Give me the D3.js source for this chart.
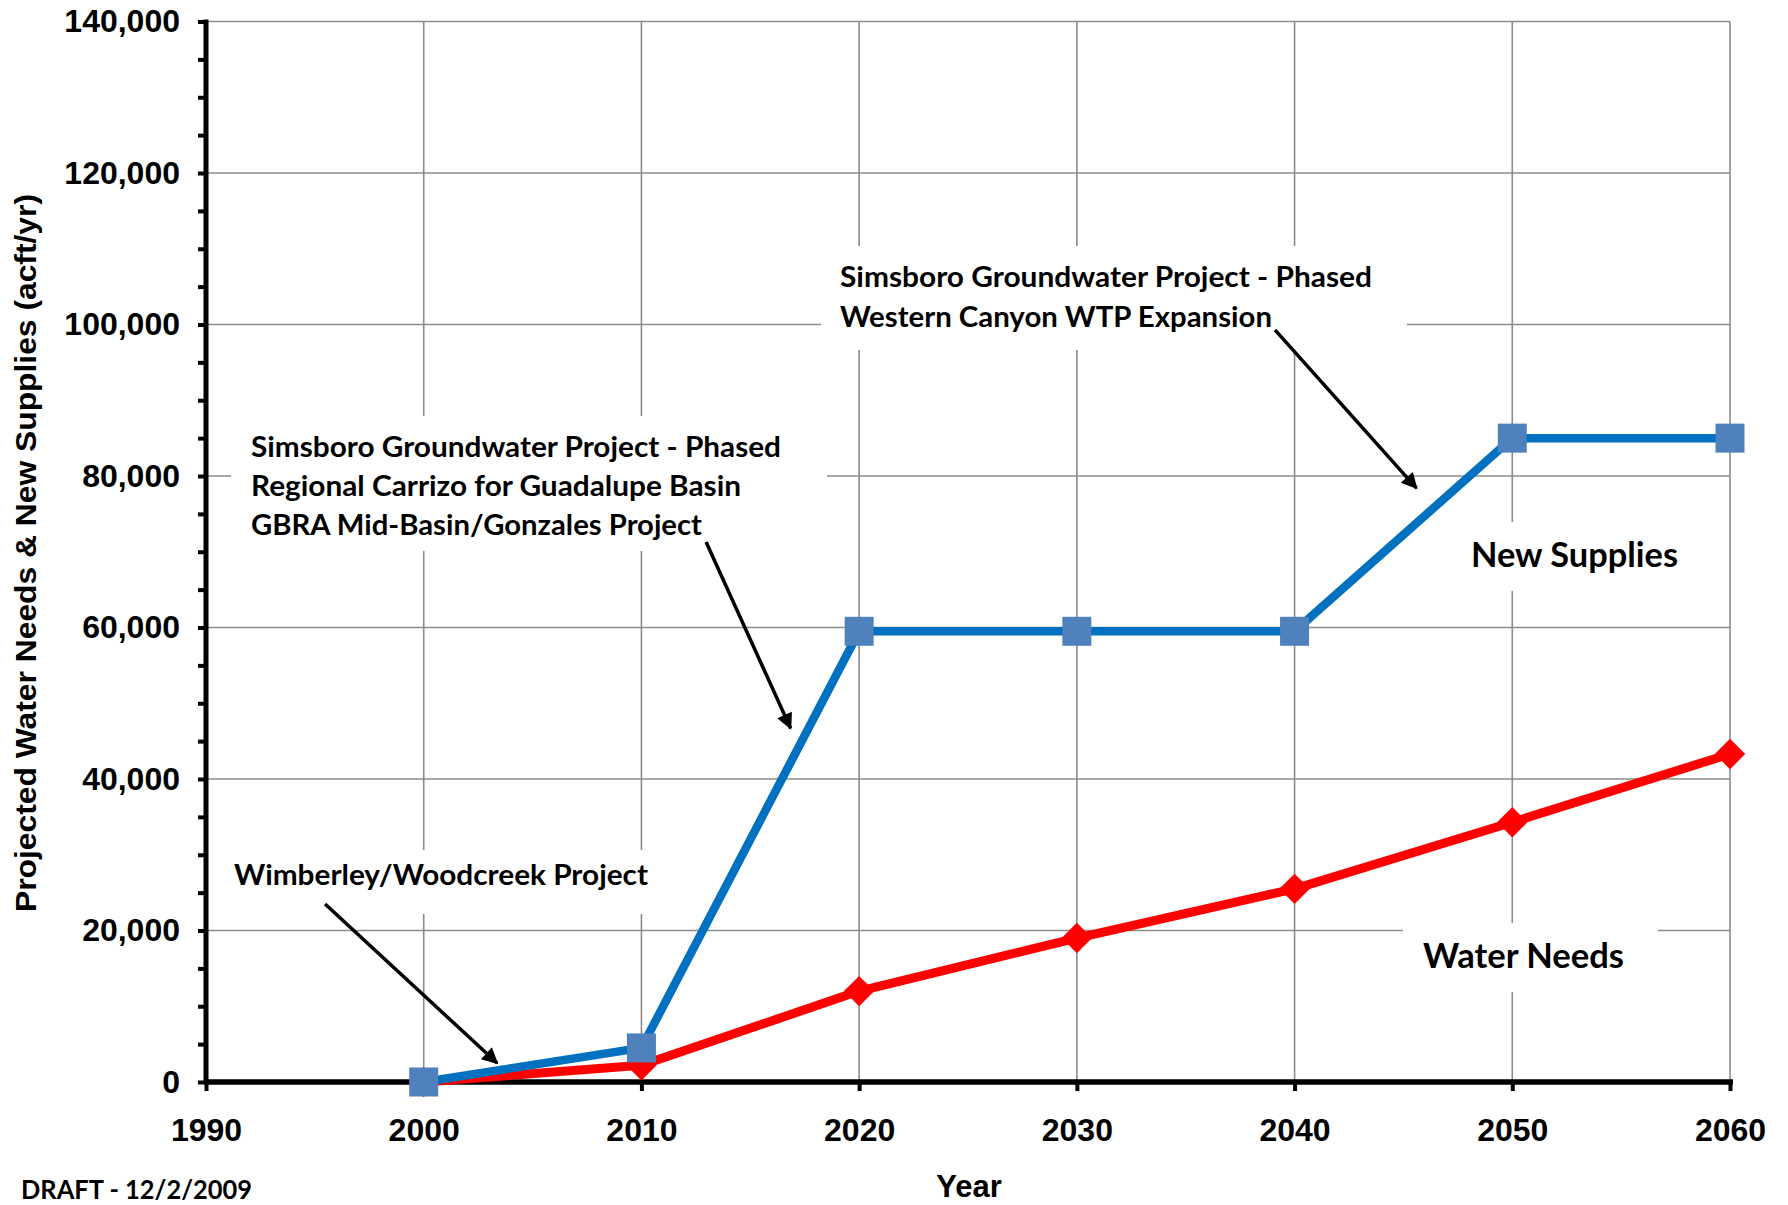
<!DOCTYPE html>
<html>
<head>
<meta charset="utf-8">
<script src="https://cdn.jsdelivr.net/npm/d3@7"></script>
<style>
  html, body { margin: 0; padding: 0; background: #fff; }
  svg { display: block; }
</style>
</head>
<body>
<svg id="chart" width="1788" height="1205"></svg>
<script>
// ---------------- DATA ----------------
const years = [2000, 2010, 2020, 2030, 2040, 2050, 2060];
const newSupplies = [0, 4500, 59500, 59500, 59500, 85000, 85000];
const waterNeeds = [0, 2200, 12000, 19000, 25500, 34300, 43300];
const xTickValues = [1990, 2000, 2010, 2020, 2030, 2040, 2050, 2060];
const yTickValues = [0, 20000, 40000, 60000, 80000, 100000, 120000, 140000];
const yMinorStep = 5000;

const seriesLabels = ["New Supplies", "Water Needs"];
const noteWestern = ["Simsboro Groundwater Project - Phased", "Western Canyon WTP Expansion"];
const noteGBRA = ["Simsboro Groundwater Project - Phased", "Regional Carrizo for Guadalupe Basin", "GBRA Mid-Basin/Gonzales Project"];
const noteWimberley = ["Wimberley/Woodcreek Project"];
const axisTitleY = "Projected Water Needs & New Supplies (acft/yr)";
const axisTitleX = "Year";
const draftNote = "DRAFT - 12/2/2009";

// ---------------- LAYOUT ----------------
(function () {
const svg = d3.select("#chart");
const pL = 206, pR = 1730, pT = 21.5, pB = 1082;
const x = d3.scaleLinear().domain([1990, 2060]).range([pL, pR]);
const y = d3.scaleLinear().domain([0, 140000]).range([pB, pT]);

const tickFont = "'Liberation Sans', Arial, sans-serif";
const noteFont = "Lato, 'Open Sans', sans-serif";

// gridlines
const grid = svg.append("g").attr("stroke", "#8c8c8c").attr("stroke-width", 1.6);
grid.selectAll("line.h").data(yTickValues.filter(v => v > 0)).join("line")
  .attr("x1", pL).attr("x2", pR)
  .attr("y1", d => y(d)).attr("y2", d => y(d));
grid.selectAll("line.v").data(xTickValues.filter(v => v > 1990)).join("line")
  .attr("x1", d => x(d)).attr("x2", d => x(d))
  .attr("y1", pT).attr("y2", pB);

// white boxes behind annotation text (break gridlines)
const boxes = [
  [821, 246, 1407, 350],
  [231, 416, 827, 551],
  [222, 850, 660, 914],
  [1455, 522, 1690, 591],
  [1403, 923, 1658, 992]
];
svg.append("g").selectAll("rect").data(boxes).join("rect")
  .attr("x", d => d[0]).attr("y", d => d[1])
  .attr("width", d => d[2] - d[0]).attr("height", d => d[3] - d[1])
  .attr("fill", "#fff");

// axes
const yAxis = d3.axisLeft(y)
  .tickValues(d3.range(0, 140001, yMinorStep))
  .tickSize(8).tickFormat("");
const gy = svg.append("g").attr("transform", `translate(${pL},0)`).call(yAxis);
gy.select(".domain").remove();
gy.selectAll(".tick line").attr("stroke", "#000").attr("stroke-width", 4);

const yLabels = d3.axisLeft(y).tickValues(yTickValues).tickSize(0).tickPadding(26)
  .tickFormat(d3.format(","));
const gyl = svg.append("g").attr("transform", `translate(${pL},0)`).call(yLabels);
gyl.select(".domain").remove();
gyl.selectAll("text").attr("font-family", tickFont).attr("font-weight", "bold")
  .attr("font-size", 32).attr("fill", "#000");

const xAxis = d3.axisBottom(x).tickValues(xTickValues).tickSize(9).tickPadding(27)
  .tickFormat(d3.format("d"));
const gx = svg.append("g").attr("transform", `translate(0,${pB})`).call(xAxis);
gx.select(".domain").remove();
gx.selectAll(".tick line").attr("stroke", "#000").attr("stroke-width", 4);
gx.selectAll("text").attr("font-family", tickFont).attr("font-weight", "bold")
  .attr("font-size", 32).attr("fill", "#000");

// axis lines
svg.append("line").attr("x1", pL).attr("x2", pL).attr("y1", pT - 2).attr("y2", pB + 2)
  .attr("stroke", "#000").attr("stroke-width", 5);
svg.append("line").attr("x1", pL - 2).attr("x2", pR + 3).attr("y1", pB).attr("y2", pB)
  .attr("stroke", "#000").attr("stroke-width", 5.5);

// series
const line = d3.line().x(d => x(d[0])).y(d => y(d[1]));
const needsPts = years.map((yr, i) => [yr, waterNeeds[i]]);
const supplyPts = years.map((yr, i) => [yr, newSupplies[i]]);

svg.append("path").datum(needsPts).attr("d", line)
  .attr("fill", "none").attr("stroke", "#ff0000").attr("stroke-width", 9)
  .attr("stroke-linejoin", "round");
svg.append("g").selectAll("path").data(needsPts).join("path")
  .attr("d", d3.symbol().type(d3.symbolSquare).size(21.5 * 21.5))
  .attr("transform", d => `translate(${x(d[0])},${y(d[1])}) rotate(45)`)
  .attr("fill", "#ff0000");

svg.append("path").datum(supplyPts).attr("d", line)
  .attr("fill", "none").attr("stroke", "#0070c0").attr("stroke-width", 8.5)
  .attr("stroke-linejoin", "round");
svg.append("g").selectAll("rect").data(supplyPts).join("rect")
  .attr("x", d => x(d[0]) - 14.5).attr("y", d => y(d[1]) - 14.5)
  .attr("width", 29).attr("height", 29)
  .attr("fill", "#4f81bd");

// arrows (endpoints in data coordinates)
const defs = svg.append("defs");
defs.append("marker").attr("id", "ah").attr("viewBox", "0 0 10 10")
  .attr("refX", 9).attr("refY", 5).attr("markerWidth", 5.2).attr("markerHeight", 4.6)
  .attr("markerUnits", "strokeWidth").attr("orient", "auto")
  .append("path").attr("d", "M0,0 L10,5 L0,10 Z").attr("fill", "#000");
const arrows = [
  [[1995.47, 23500], [2003.37, 2500]],
  [[2012.97, 71300], [2016.85, 46700]],
  [[2039.10, 99300], [2045.60, 78400]]
];
svg.append("g").selectAll("line").data(arrows).join("line")
  .attr("x1", d => x(d[0][0])).attr("y1", d => y(d[0][1]))
  .attr("x2", d => x(d[1][0])).attr("y2", d => y(d[1][1]))
  .attr("stroke", "#000").attr("stroke-width", 3.5)
  .attr("marker-end", "url(#ah)");

// annotation text
function note(lines, lx, baselines, widths, size) {
  const g = svg.append("g");
  lines.forEach((t, i) => {
    g.append("text").attr("x", lx).attr("y", baselines[i])
      .attr("font-family", noteFont).attr("font-weight", "bold")
      .attr("font-size", size).attr("fill", "#000")
      .attr("textLength", widths[i]).attr("lengthAdjust", "spacingAndGlyphs")
      .text(t);
  });
}
note(noteWestern, 840, [287, 326.5], [532, 432], 29);
note(noteGBRA, 251, [457, 496, 535], [530, 490, 451], 29);
note(noteWimberley, 234, [885], [414], 29);
note([seriesLabels[0]], 1471, [567], [207], 35);
note([seriesLabels[1]], 1423, [968], [201], 35);
note([draftNote], 21, [1199], [231], 26);

// axis titles
svg.append("text")
  .attr("transform", `translate(36,553) rotate(-90)`)
  .attr("text-anchor", "middle")
  .attr("font-family", tickFont).attr("font-weight", "bold")
  .attr("font-size", 29).attr("fill", "#000")
  .attr("textLength", 718).attr("lengthAdjust", "spacingAndGlyphs")
  .text(axisTitleY);
svg.append("text")
  .attr("x", 969).attr("y", 1197)
  .attr("text-anchor", "middle")
  .attr("font-family", tickFont).attr("font-weight", "bold")
  .attr("font-size", 31).attr("fill", "#000")
  .text(axisTitleX);
})();
</script>
</body>
</html>
